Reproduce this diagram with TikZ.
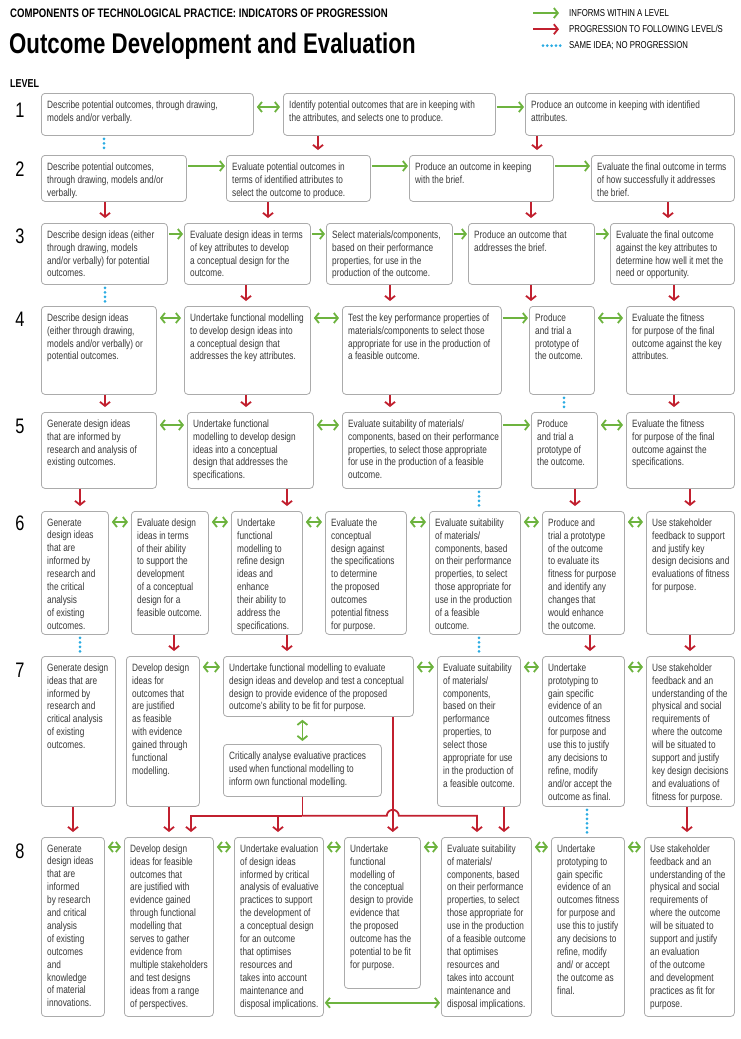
\documentclass[tikz,border=0pt]{standalone}
\usepackage{fontspec}
\setmainfont{Liberation Sans}[FakeStretch=0.78]
\usetikzlibrary{arrows.meta}
\definecolor{informgreen}{HTML}{6DB33F}
\definecolor{progred}{HTML}{C1202F}
\definecolor{sameblue}{HTML}{29ABE2}
\definecolor{framegray}{HTML}{ABABAB}
\definecolor{notegray}{HTML}{383838}
\tikzset{stage/.style={draw=framegray,line width=0.8pt,rounded corners=3.5pt,anchor=north west,inner sep=0pt},
  note/.style={anchor=north west,align=left,inner xsep=6pt,inner ysep=7.4pt,text=notegray,font=\fontsize{10.6}{12.9}\selectfont},
  informs/.style={->,draw=informgreen,line width=1.8pt,shorten >=1pt,shorten <=1pt},
  both/.style={<->,draw=informgreen,line width=1.8pt,shorten >=3pt,shorten <=3pt},
  progress/.style={->,draw=progred,line width=1.8pt,shorten >=5pt},
  redline/.style={draw=progred,line width=1.8pt},
  same/.style={draw=sameblue,line width=3pt,line cap=round,dash pattern=on 0pt off 4.5pt,shorten >=3pt,shorten <=3pt},
  levelno/.style={anchor=base,font=\fontsize{21}{21}\selectfont},
  legend/.style={anchor=base west,inner sep=0pt,font=\fontsize{10}{12}\selectfont}}
\begin{document}
\begin{tikzpicture}[>={Straight Barb[length=4pt,width=10pt]}, x=1pt, y=-1pt]
    \useasboundingbox (0,0) rectangle (740,1039);

    \node[anchor=base west,inner sep=0pt,font=\fontsize{12.3}{14}\bfseries](head) at (10,17){COMPONENTS OF TECHNOLOGICAL PRACTICE: INDICATORS OF PROGRESSION};
    \node[anchor=base west,inner sep=0pt,font=\fontsize{28.5}{30}\bfseries](title) at (9,53){Outcome Development and Evaluation};
    \node[anchor=base west,inner sep=0pt,font=\fontsize{11.5}{12}\bfseries](level) at (10,87){LEVEL};

    \node[legend](lg-informs) at (569,16.5){INFORMS WITHIN A LEVEL};
    \node[legend](lg-progress) at (569,32.8){PROGRESSION TO FOLLOWING LEVEL/S};
    \node[legend](lg-same) at (569,48.5){SAME IDEA; NO PROGRESSION};
    \draw[informs,shorten <=0pt,shorten >=0pt] ([xshift=-36pt]lg-informs.west) -- ([xshift=-10pt]lg-informs.west);
    \draw[progress,shorten >=0pt] ([xshift=-36pt]lg-progress.west) -- ([xshift=-10pt]lg-progress.west);
    \draw[same,shorten <=0pt,shorten >=0pt,dash pattern=on 0pt off 4.3pt] ([xshift=-26pt]lg-same.west) -- ([xshift=-8pt]lg-same.west);

    % level 1
    \node[stage,minimum width=212pt,minimum height=42pt](b-1-1) at (41,93){};
    \node[note](t-1-1) at (b-1-1.north west){Describe potential outcomes, through drawing,\\models and/or verbally.};
    \node[stage,minimum width=212pt,minimum height=42pt](b-1-2) at (283,93){};
    \node[note](t-1-2) at (b-1-2.north west){Identify potential outcomes that are in keeping with\\the attributes, and selects one to produce.};
    \node[stage,minimum width=209pt,minimum height=42pt](b-1-3) at (525,93){};
    \node[note](t-1-3) at (b-1-3.north west){Produce an outcome in keeping with identified\\attributes.};
    \node[levelno](lv-1) at ([xshift=-21pt,yshift=-24pt]b-1-1.north west){1};

    \draw[both] ([yshift=-14pt]b-1-1.north east) -- ([yshift=-14pt]b-1-2.north west);
    \draw[informs] ([yshift=-14pt]b-1-2.north east) -- ([yshift=-14pt]b-1-3.north west);

    % level 2
    \node[stage,minimum width=145pt,minimum height=46pt](b-2-1) at (41,155){};
    \node[note](t-2-1) at (b-2-1.north west){Describe potential outcomes,\\through drawing, models and/or\\verbally.};
    \node[stage,minimum width=144pt,minimum height=46pt](b-2-2) at (226,155){};
    \node[note](t-2-2) at (b-2-2.north west){Evaluate potential outcomes in\\terms of identified attributes to\\select the outcome to produce.};
    \node[stage,minimum width=144pt,minimum height=46pt](b-2-3) at (409,155){};
    \node[note](t-2-3) at (b-2-3.north west){Produce an outcome in keeping\\with the brief.};
    \node[stage,minimum width=143pt,minimum height=46pt](b-2-4) at (591,155){};
    \node[note](t-2-4) at (b-2-4.north west){Evaluate the final outcome in terms\\of how successfully it addresses\\the brief.};
    \node[levelno](lv-2) at ([xshift=-21pt,yshift=-21pt]b-2-1.north west){2};

    \draw[informs] ([yshift=-11pt]b-2-1.north east) -- ([yshift=-11pt]b-2-2.north west);
    \draw[informs] ([yshift=-11pt]b-2-2.north east) -- ([yshift=-11pt]b-2-3.north west);
    \draw[informs] ([yshift=-11pt]b-2-3.north east) -- ([yshift=-11pt]b-2-4.north west);

    \draw[same] ([xshift=63pt]b-1-1.south west) -- ([xshift=63pt]b-1-1.south west |- b-2-1.north);
    \draw[progress] ([xshift=35pt]b-1-2.south west) -- ([xshift=35pt]b-1-2.south west |- b-2-2.north);
    \draw[progress] ([xshift=12pt]b-1-3.south west) -- ([xshift=12pt]b-1-3.south west |- b-2-3.north);

    % level 3
    \node[stage,minimum width=126pt,minimum height=61pt](b-3-1) at (41,223){};
    \node[note](t-3-1) at (b-3-1.north west){Describe design ideas (either\\through drawing, models\\and/or verbally) for potential\\outcomes.};
    \node[stage,minimum width=126pt,minimum height=61pt](b-3-2) at (184,223){};
    \node[note](t-3-2) at (b-3-2.north west){Evaluate design ideas in terms\\of key attributes to develop\\a conceptual design for the\\outcome.};
    \node[stage,minimum width=126pt,minimum height=61pt](b-3-3) at (326,223){};
    \node[note](t-3-3) at (b-3-3.north west){Select materials/components,\\based on their performance\\properties, for use in the\\production of the outcome.};
    \node[stage,minimum width=126pt,minimum height=61pt](b-3-4) at (468,223){};
    \node[note](t-3-4) at (b-3-4.north west){Produce an outcome that\\addresses the brief.};
    \node[stage,minimum width=124pt,minimum height=61pt](b-3-5) at (610,223){};
    \node[note](t-3-5) at (b-3-5.north west){Evaluate the final outcome\\against the key attributes to\\determine how well it met the\\need or opportunity.};
    \node[levelno](lv-3) at ([xshift=-21pt,yshift=-20pt]b-3-1.north west){3};

    \draw[informs] ([yshift=-11pt]b-3-1.north east) -- ([yshift=-11pt]b-3-2.north west);
    \draw[informs] ([yshift=-11pt]b-3-2.north east) -- ([yshift=-11pt]b-3-3.north west);
    \draw[informs] ([yshift=-11pt]b-3-3.north east) -- ([yshift=-11pt]b-3-4.north west);
    \draw[informs] ([yshift=-11pt]b-3-4.north east) -- ([yshift=-11pt]b-3-5.north west);

    \draw[progress] ([xshift=64pt]b-2-1.south west) -- ([xshift=64pt]b-2-1.south west |- b-3-1.north);
    \draw[progress] ([xshift=42pt]b-2-2.south west) -- ([xshift=42pt]b-2-2.south west |- b-3-2.north);
    \draw[progress] ([xshift=122pt]b-2-3.south west) -- ([xshift=122pt]b-2-3.south west |- b-3-4.north);
    \draw[progress] ([xshift=77pt]b-2-4.south west) -- ([xshift=77pt]b-2-4.south west |- b-3-5.north);

    % level 4
    \node[stage,minimum width=115pt,minimum height=88pt](b-4-1) at (41,306){};
    \node[note](t-4-1) at (b-4-1.north west){Describe design ideas\\(either through drawing,\\models and/or verbally) or\\potential outcomes.};
    \node[stage,minimum width=126pt,minimum height=88pt](b-4-2) at (184,306){};
    \node[note](t-4-2) at (b-4-2.north west){Undertake functional modelling\\to develop design ideas into\\a conceptual design that\\addresses the key attributes.};
    \node[stage,minimum width=159pt,minimum height=88pt](b-4-3) at (342,306){};
    \node[note](t-4-3) at (b-4-3.north west){Test the key performance properties of\\materials/components to select those\\appropriate for use in the production of\\a feasible outcome.};
    \node[stage,minimum width=65pt,minimum height=88pt](b-4-4) at (529,306){};
    \node[note](t-4-4) at (b-4-4.north west){Produce\\and trial a\\prototype of\\the outcome.};
    \node[stage,minimum width=108pt,minimum height=88pt](b-4-5) at (626,306){};
    \node[note](t-4-5) at (b-4-5.north west){Evaluate the fitness\\for purpose of the final\\outcome against the key\\attributes.};
    \node[levelno](lv-4) at ([xshift=-21pt,yshift=-20pt]b-4-1.north west){4};

    \draw[both] ([yshift=-12pt]b-4-1.north east) -- ([yshift=-12pt]b-4-2.north west);
    \draw[both] ([yshift=-12pt]b-4-2.north east) -- ([yshift=-12pt]b-4-3.north west);
    \draw[informs] ([yshift=-12pt]b-4-3.north east) -- ([yshift=-12pt]b-4-4.north west);
    \draw[both] ([yshift=-12pt]b-4-4.north east) -- ([yshift=-12pt]b-4-5.north west);

    \draw[same] ([xshift=64pt]b-3-1.south west) -- ([xshift=64pt]b-3-1.south west |- b-4-1.north);
    \draw[progress] ([xshift=62pt]b-3-2.south west) -- ([xshift=62pt]b-3-2.south west |- b-4-2.north);
    \draw[progress] ([xshift=64pt]b-3-3.south west) -- ([xshift=64pt]b-3-3.south west |- b-4-3.north);
    \draw[progress] ([xshift=63pt]b-3-4.south west) -- ([xshift=63pt]b-3-4.south west |- b-4-4.north);
    \draw[progress] ([xshift=64pt]b-3-5.south west) -- ([xshift=64pt]b-3-5.south west |- b-4-5.north);

    % level 5
    \node[stage,minimum width=115pt,minimum height=76pt](b-5-1) at (41,412){};
    \node[note](t-5-1) at (b-5-1.north west){Generate design ideas\\that are informed by\\research and analysis of\\existing outcomes.};
    \node[stage,minimum width=126pt,minimum height=76pt](b-5-2) at (187,412){};
    \node[note](t-5-2) at (b-5-2.north west){Undertake functional\\modelling to develop design\\ideas into a conceptual\\design that addresses the\\specifications.};
    \node[stage,minimum width=159pt,minimum height=76pt](b-5-3) at (342,412){};
    \node[note](t-5-3) at (b-5-3.north west){Evaluate suitability of materials/\\components, based on their performance\\properties, to select those appropriate\\for use in the production of a feasible\\outcome.};
    \node[stage,minimum width=66pt,minimum height=76pt](b-5-4) at (531,412){};
    \node[note](t-5-4) at (b-5-4.north west){Produce\\and trial a\\prototype of\\the outcome.};
    \node[stage,minimum width=108pt,minimum height=76pt](b-5-5) at (626,412){};
    \node[note](t-5-5) at (b-5-5.north west){Evaluate the fitness\\for purpose of the final\\outcome against the\\specifications.};
    \node[levelno](lv-5) at ([xshift=-21pt,yshift=-21pt]b-5-1.north west){5};

    \draw[both] ([yshift=-13pt]b-5-1.north east) -- ([yshift=-13pt]b-5-2.north west);
    \draw[both] ([yshift=-13pt]b-5-2.north east) -- ([yshift=-13pt]b-5-3.north west);
    \draw[informs] ([yshift=-13pt]b-5-3.north east) -- ([yshift=-13pt]b-5-4.north west);
    \draw[both] ([yshift=-13pt]b-5-4.north east) -- ([yshift=-13pt]b-5-5.north west);

    \draw[progress] ([xshift=64pt]b-4-1.south west) -- ([xshift=64pt]b-4-1.south west |- b-5-1.north);
    \draw[progress] ([xshift=62pt]b-4-2.south west) -- ([xshift=62pt]b-4-2.south west |- b-5-2.north);
    \draw[progress] ([xshift=48pt]b-4-3.south west) -- ([xshift=48pt]b-4-3.south west |- b-5-3.north);
    \draw[same] ([xshift=35pt]b-4-4.south west) -- ([xshift=35pt]b-4-4.south west |- b-5-4.north);
    \draw[progress] ([xshift=48pt]b-4-5.south west) -- ([xshift=48pt]b-4-5.south west |- b-5-5.north);

    % level 6
    \node[stage,minimum width=67pt,minimum height=123pt](b-6-1) at (41,511){};
    \node[note](t-6-1) at (b-6-1.north west){Generate\\design ideas\\that are\\informed by\\research and\\the critical\\analysis\\of existing\\outcomes.};
    \node[stage,minimum width=77pt,minimum height=123pt](b-6-2) at (131,511){};
    \node[note](t-6-2) at (b-6-2.north west){Evaluate design\\ideas in terms\\of their ability\\to support the\\development\\of a conceptual\\design for a\\feasible outcome.};
    \node[stage,minimum width=71pt,minimum height=123pt](b-6-3) at (231,511){};
    \node[note](t-6-3) at (b-6-3.north west){Undertake\\functional\\modelling to\\refine design\\ideas and\\enhance\\their ability to\\address the\\specifications.};
    \node[stage,minimum width=81pt,minimum height=123pt](b-6-4) at (325,511){};
    \node[note](t-6-4) at (b-6-4.north west){Evaluate the\\conceptual\\design against\\the specifications\\to determine\\the proposed\\outcomes\\potential fitness\\for purpose.};
    \node[stage,minimum width=91pt,minimum height=123pt](b-6-5) at (429,511){};
    \node[note](t-6-5) at (b-6-5.north west){Evaluate suitability\\of materials/\\components, based\\on their performance\\properties, to select\\those appropriate for\\use in the production\\of a feasible\\outcome.};
    \node[stage,minimum width=82pt,minimum height=123pt](b-6-6) at (542,511){};
    \node[note](t-6-6) at (b-6-6.north west){Produce and\\trial a prototype\\of the outcome\\to evaluate its\\fitness for purpose\\and identify any\\changes that\\would enhance\\the outcome.};
    \node[stage,minimum width=88pt,minimum height=123pt](b-6-7) at (646,511){};
    \node[note](t-6-7) at (b-6-7.north west){Use stakeholder\\feedback to support\\and justify key\\design decisions and\\evaluations of fitness\\for purpose.};
    \node[levelno](lv-6) at ([xshift=-21pt,yshift=-19pt]b-6-1.north west){6};

    \draw[both] ([yshift=-11pt]b-6-1.north east) -- ([yshift=-11pt]b-6-2.north west);
    \draw[both] ([yshift=-11pt]b-6-2.north east) -- ([yshift=-11pt]b-6-3.north west);
    \draw[both] ([yshift=-11pt]b-6-3.north east) -- ([yshift=-11pt]b-6-4.north west);
    \draw[both] ([yshift=-11pt]b-6-4.north east) -- ([yshift=-11pt]b-6-5.north west);
    \draw[both] ([yshift=-11pt]b-6-5.north east) -- ([yshift=-11pt]b-6-6.north west);
    \draw[both] ([yshift=-11pt]b-6-6.north east) -- ([yshift=-11pt]b-6-7.north west);

    \draw[progress] ([xshift=39pt]b-5-1.south west) -- ([xshift=39pt]b-5-1.south west |- b-6-1.north);
    \draw[progress] ([xshift=100pt]b-5-2.south west) -- ([xshift=100pt]b-5-2.south west |- b-6-3.north);
    \draw[same] ([xshift=137pt]b-5-3.south west) -- ([xshift=137pt]b-5-3.south west |- b-6-5.north);
    \draw[progress] ([xshift=44pt]b-5-4.south west) -- ([xshift=44pt]b-5-4.south west |- b-6-6.north);
    \draw[progress] ([xshift=64pt]b-5-5.south west) -- ([xshift=64pt]b-5-5.south west |- b-6-7.north);

    % level 7
    \node[stage,minimum width=74pt,minimum height=150pt](b-7-1) at (41,656){};
    \node[note](t-7-1) at (b-7-1.north west){Generate design\\ideas that are\\informed by\\research and\\critical analysis\\of existing\\outcomes.};
    \node[stage,minimum width=73pt,minimum height=150pt](b-7-2) at (126,656){};
    \node[note](t-7-2) at (b-7-2.north west){Develop design\\ideas for\\outcomes that\\are justified\\as feasible\\with evidence\\gained through\\functional\\modelling.};
    \node[stage,minimum width=190pt,minimum height=60pt](b-7-3a) at (223,656){};
    \node[note](t-7-3a) at (b-7-3a.north west){Undertake functional modelling to evaluate\\design ideas and develop and test a conceptual\\design to provide evidence of the proposed\\outcome’s ability to be fit for purpose.};
    \node[stage,minimum width=158pt,minimum height=52pt](b-7-3b) at (223,744){};
    \node[note](t-7-3b) at (b-7-3b.north west){Critically analyse evaluative practices\\used when functional modelling to\\inform own functional modelling.};
    \node[stage,minimum width=83pt,minimum height=150pt](b-7-4) at (437,656){};
    \node[note](t-7-4) at (b-7-4.north west){Evaluate suitability\\of materials/\\components,\\based on their\\performance\\properties, to\\select those\\appropriate for use\\in the production of\\a feasible outcome.};
    \node[stage,minimum width=82pt,minimum height=150pt](b-7-5) at (542,656){};
    \node[note](t-7-5) at (b-7-5.north west){Undertake\\prototyping to\\gain specific\\evidence of an\\outcomes fitness\\for purpose and\\use this to justify\\any decisions to\\refine, modify\\and/or accept the\\outcome as final.};
    \node[stage,minimum width=88pt,minimum height=150pt](b-7-6) at (646,656){};
    \node[note](t-7-6) at (b-7-6.north west){Use stakeholder\\feedback and an\\understanding of the\\physical and social\\requirements of\\where the outcome\\will be situated to\\support and justify\\key design decisions\\and evaluations of\\fitness for purpose.};
    \node[levelno](lv-7) at ([xshift=-21pt,yshift=-21pt]b-7-1.north west){7};

    \draw[both] ([yshift=-11pt]b-7-2.north east) -- ([yshift=-11pt]b-7-3a.north west);
    \draw[both] ([yshift=-11pt]b-7-3a.north east) -- ([yshift=-11pt]b-7-4.north west);
    \draw[both] ([yshift=-11pt]b-7-4.north east) -- ([yshift=-11pt]b-7-5.north west);
    \draw[both] ([yshift=-11pt]b-7-5.north east) -- ([yshift=-11pt]b-7-6.north west);
    \draw[both] (b-7-3b.north) -- (b-7-3b.north |- b-7-3a.south);

    \draw[same] ([xshift=39pt]b-6-1.south west) -- ([xshift=39pt]b-6-1.south west |- b-7-1.north);
    \draw[progress] ([xshift=43pt]b-6-2.south west) -- ([xshift=43pt]b-6-2.south west |- b-7-2.north);
    \draw[progress] ([xshift=56pt]b-6-3.south west) -- ([xshift=56pt]b-6-3.south west |- b-7-3a.north);
    \draw[same] ([xshift=50pt]b-6-5.south west) -- ([xshift=50pt]b-6-5.south west |- b-7-4.north);
    \draw[progress] ([xshift=48pt]b-6-6.south west) -- ([xshift=48pt]b-6-6.south west |- b-7-5.north);
    \draw[progress] ([xshift=44pt]b-6-7.south west) -- ([xshift=44pt]b-6-7.south west |- b-7-6.north);

    % level 8
    \node[stage,minimum width=63pt,minimum height=179pt](b-8-1) at (41,837){};
    \node[note](t-8-1) at (b-8-1.north west){Generate\\design ideas\\that are\\informed\\by research\\and critical\\analysis\\of existing\\outcomes\\and\\knowledge\\of material\\innovations.};
    \node[stage,minimum width=89pt,minimum height=179pt](b-8-2) at (124,837){};
    \node[note](t-8-2) at (b-8-2.north west){Develop design\\ideas for feasible\\outcomes that\\are justified with\\evidence gained\\through functional\\modelling that\\serves to gather\\evidence from\\multiple stakeholders\\and test designs\\ideas from a range\\of perspectives.};
    \node[stage,minimum width=89pt,minimum height=179pt](b-8-3) at (234,837){};
    \node[note](t-8-3) at (b-8-3.north west){Undertake evaluation\\of design ideas\\informed by critical\\analysis of evaluative\\practices to support\\the development of\\a conceptual design\\for an outcome\\that optimises\\resources and\\takes into account\\maintenance and\\disposal implications.};
    \node[stage,minimum width=76pt,minimum height=151pt](b-8-4) at (344,837){};
    \node[note](t-8-4) at (b-8-4.north west){Undertake\\functional\\modelling of\\the conceptual\\design to provide\\evidence that\\the proposed\\outcome has the\\potential to be fit\\for purpose.};
    \node[stage,minimum width=90pt,minimum height=179pt](b-8-5) at (441,837){};
    \node[note](t-8-5) at (b-8-5.north west){Evaluate suitability\\of materials/\\components, based\\on their performance\\properties, to select\\those appropriate for\\use in the production\\of a feasible outcome\\that optimises\\resources and\\takes into account\\maintenance and\\disposal implications.};
    \node[stage,minimum width=73pt,minimum height=179pt](b-8-6) at (551,837){};
    \node[note](t-8-6) at (b-8-6.north west){Undertake\\prototyping to\\gain specific\\evidence of an\\outcomes fitness\\for purpose and\\use this to justify\\any decisions to\\refine, modify\\and/ or accept\\the outcome as\\final.};
    \node[stage,minimum width=90pt,minimum height=179pt](b-8-7) at (644,837){};
    \node[note](t-8-7) at (b-8-7.north west){Use stakeholder\\feedback and an\\understanding of the\\physical and social\\requirements of\\where the outcome\\will be situated to\\support and justify\\an evaluation\\of the outcome\\and development\\practices as fit for\\purpose.};
    \node[levelno](lv-8) at ([xshift=-21pt,yshift=-21pt]b-8-1.north west){8};

    \draw[both] ([yshift=-10pt]b-8-1.north east) -- ([yshift=-10pt]b-8-2.north west);
    \draw[both] ([yshift=-10pt]b-8-2.north east) -- ([yshift=-10pt]b-8-3.north west);
    \draw[both] ([yshift=-10pt]b-8-3.north east) -- ([yshift=-10pt]b-8-4.north west);
    \draw[both] ([yshift=-10pt]b-8-4.north east) -- ([yshift=-10pt]b-8-5.north west);
    \draw[both] ([yshift=-10pt]b-8-5.north east) -- ([yshift=-10pt]b-8-6.north west);
    \draw[both] ([yshift=-10pt]b-8-6.north east) -- ([yshift=-10pt]b-8-7.north west);
    \draw[both,shorten <=1pt,shorten >=1pt] ([yshift=14pt]b-8-3.south east) -- ([yshift=14pt]b-8-5.south west);

    \draw[progress] ([xshift=32pt]b-7-1.south west) -- ([xshift=32pt]b-7-1.south west |- b-8-1.north);
    \draw[progress] ([xshift=43pt]b-7-2.south west) -- ([xshift=43pt]b-7-2.south west |- b-8-2.north);
    \coordinate (bus) at ([yshift=-19pt]b-7-3b.south);
    \coordinate (hop) at ([xshift=-21pt]b-7-3a.south east |- bus);
    \draw[redline] (b-7-3b.south) -- (bus);
    \draw[progress] (bus) -| ([xshift=67pt]b-8-2.north west);
    \draw[progress] (bus) -| ([xshift=44pt]b-8-3.north west);
    \draw[progress] (bus) -- ([xshift=-6pt]hop) arc[start angle=180,end angle=0,radius=6pt] -| ([xshift=36pt]b-8-5.north west);
    \draw[progress] ([xshift=-21pt]b-7-3a.south east) -- ([xshift=-21pt]b-7-3a.south east |- b-8-4.north);
    \draw[progress] ([xshift=67pt]b-7-4.south west) -- ([xshift=67pt]b-7-4.south west |- b-8-5.north);
    \draw[same] ([xshift=45pt]b-7-5.south west) -- ([xshift=45pt]b-7-5.south west |- b-8-6.north);
    \draw[progress] ([xshift=41pt]b-7-6.south west) -- ([xshift=41pt]b-7-6.south west |- b-8-7.north);
\end{tikzpicture}
\end{document}
